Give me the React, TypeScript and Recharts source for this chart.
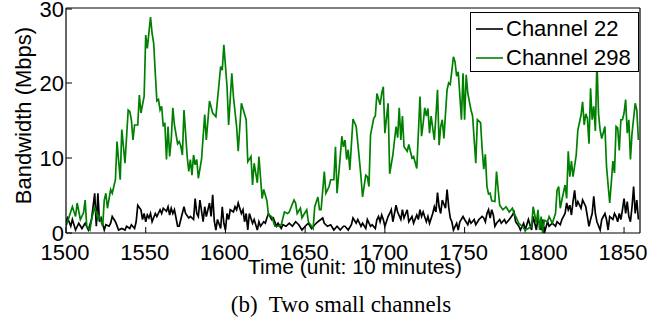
import { LineChart, Line, XAxis, YAxis, Legend, Label } from 'recharts'

// [time, Mbps]
const ch22: [number, number][] = [
  [1500, 1.5], [1501, 2.0], [1503, 0.9], [1504, 1.8], [1506, 0.4], [1508, 1.3], [1510, 0.6], [1512, 1.3],
  [1514, 0.4], [1516, 1.8], [1518, 5.3], [1519, 0.9], [1520, 5.3], [1521, 1.5], [1522, 2.0], [1524, 0.4],
  [1525, 1.1], [1527, 0.9], [1528, 1.3], [1529, 2.2], [1531, 1.5], [1533, 0.4], [1535, 0.6], [1537, 0.4],
  [1538, 0.9], [1540, 0.6], [1541, 1.1], [1543, 0.6], [1544, 1.5], [1545, 3.7], [1547, 3.1], [1548, 1.8],
  [1549, 2.6], [1550, 1.5], [1551, 2.4], [1552, 2.0], [1553, 2.6], [1554, 1.5], [1556, 2.6], [1557, 2.2],
  [1559, 3.1], [1560, 2.6], [1561, 3.3], [1563, 2.9], [1564, 3.5], [1565, 2.4], [1566, 3.3], [1567, 2.6],
  [1568, 3.1], [1570, 0.9], [1571, 0.9], [1572, 1.8], [1574, 3.5], [1575, 2.6], [1577, 2.0], [1578, 2.2],
  [1580, 1.8], [1581, 4.6], [1582, 2.6], [1583, 2.2], [1584, 4.4], [1586, 1.5], [1587, 3.5], [1588, 2.2],
  [1589, 3.1], [1590, 4.0], [1591, 2.2], [1592, 5.1], [1593, 1.6], [1594, 0.4], [1595, 1.8], [1597, 0.6],
  [1598, 3.5], [1599, 1.3], [1600, 0.4], [1601, 2.6], [1602, 1.8], [1603, 3.1], [1605, 2.8], [1606, 3.5],
  [1607, 3.1], [1608, 4.0], [1610, 2.6], [1611, 3.1], [1612, 1.5], [1613, 2.6], [1614, 0.4], [1615, 2.6],
  [1617, 1.3], [1618, 1.8], [1620, 0.4], [1621, 1.5], [1622, 0.9], [1624, 1.5], [1625, 1.3], [1626, 2.0],
  [1627, 2.6], [1629, 1.8], [1630, 2.0], [1632, 0.9], [1633, 1.3], [1635, 0.6], [1636, 1.1], [1638, 0.9],
  [1640, 1.3], [1642, 0.9], [1644, 1.5], [1646, 1.1], [1648, 0.4], [1650, 0.9], [1652, 1.3], [1654, 0.6],
  [1656, 1.1], [1658, 1.5], [1661, 2.0], [1662, 1.3], [1664, 0.9], [1666, 1.1], [1668, 0.4], [1670, 0.9],
  [1672, 0.4], [1674, 0.9], [1675, 0.9], [1677, 0.4], [1679, 1.1], [1680, 2.0], [1682, 1.3], [1683, 1.8],
  [1685, 0.9], [1686, 1.3], [1688, 0.6], [1689, 1.8], [1691, 0.9], [1692, 1.1], [1694, 0.6], [1695, 1.8],
  [1696, 2.2], [1697, 1.5], [1698, 2.4], [1699, 1.8], [1700, 0.9], [1702, 2.2], [1703, 2.6], [1704, 3.1],
  [1705, 1.5], [1706, 2.6], [1707, 3.7], [1708, 2.8], [1710, 1.8], [1711, 3.1], [1712, 2.0], [1714, 3.1],
  [1715, 1.5], [1717, 2.2], [1718, 1.3], [1720, 2.4], [1721, 1.8], [1722, 3.1], [1723, 2.2], [1724, 2.8],
  [1726, 1.5], [1727, 2.2], [1728, 1.3], [1730, 2.6], [1731, 3.5], [1732, 2.8], [1733, 5.4], [1734, 3.5],
  [1735, 2.6], [1736, 4.4], [1738, 3.3], [1739, 5.8], [1740, 3.5], [1741, 2.0], [1742, 1.5], [1743, 0.4],
  [1745, 1.3], [1746, 0.4], [1747, 1.5], [1749, 2.2], [1750, 1.8], [1752, 1.1], [1753, 1.8], [1754, 1.3],
  [1756, 1.8], [1757, 1.1], [1759, 1.8], [1761, 2.2], [1762, 2.0], [1763, 1.5], [1764, 2.6], [1765, 3.1],
  [1766, 2.0], [1767, 3.1], [1768, 2.4], [1769, 0.9], [1770, 1.3], [1772, 1.8], [1773, 1.3], [1775, 1.8],
  [1776, 1.3], [1778, 1.8], [1780, 2.4], [1781, 2.8], [1782, 1.5], [1784, 0.9], [1785, 0.4], [1787, 1.3],
  [1788, 0.4], [1790, 1.8], [1791, 1.1], [1792, 0.4], [1793, 2.2], [1795, 0.4], [1796, 2.0], [1798, 0.4],
  [1799, 1.8], [1800, 0.0], [1802, 1.5], [1803, 0.9], [1805, 1.3], [1807, 0.9], [1808, 1.5], [1810, 1.1],
  [1811, 1.8], [1813, 2.6], [1814, 4.0], [1815, 3.1], [1816, 3.7], [1817, 2.4], [1818, 4.2], [1819, 5.7],
  [1820, 3.5], [1821, 4.2], [1823, 3.3], [1824, 4.4], [1826, 3.5], [1827, 2.2], [1828, 0.9], [1829, 1.8],
  [1830, 2.6], [1831, 4.9], [1832, 2.6], [1833, 1.5], [1835, 0.4], [1836, 1.8], [1838, 2.6], [1839, 1.8],
  [1840, 0.4], [1841, 2.2], [1843, 1.8], [1844, 2.6], [1845, 2.2], [1846, 1.5], [1847, 2.6], [1848, 1.8],
  [1849, 3.1], [1850, 4.6], [1851, 2.6], [1852, 4.2], [1853, 2.2], [1854, 1.5], [1855, 3.5], [1856, 6.2],
  [1857, 2.6], [1858, 4.4], [1859, 1.8],
]

const ch298: [number, number][] = [
  [1500, 0.9], [1502, 2.2], [1504, 3.5], [1506, 2.2], [1507, 4.0], [1509, 1.8], [1511, 2.7], [1512, 4.4],
  [1513, 0.9], [1515, 0.4], [1516, 1.8], [1518, 3.5], [1520, 1.8], [1521, 2.2], [1523, 0.9], [1524, 4.4],
  [1525, 5.3], [1526, 3.3], [1528, 5.8], [1529, 5.3], [1530, 6.2], [1531, 7.1], [1532, 12.2], [1534, 7.1],
  [1535, 13.8], [1537, 9.3], [1539, 16.4], [1540, 16.2], [1541, 15.1], [1542, 12.4], [1543, 14.4], [1545, 14.4],
  [1546, 18.4], [1547, 16.0], [1549, 18.2], [1550, 26.4], [1551, 24.6], [1553, 28.8], [1554, 26.6], [1555, 25.3],
  [1556, 21.3], [1557, 17.6], [1558, 17.8], [1559, 16.4], [1560, 16.9], [1561, 14.2], [1562, 14.7], [1563, 9.8],
  [1564, 14.2], [1565, 10.2], [1566, 12.4], [1567, 16.7], [1568, 14.4], [1570, 11.9], [1571, 12.2], [1572, 11.6],
  [1573, 10.4], [1574, 16.4], [1576, 10.2], [1577, 8.2], [1578, 9.8], [1579, 7.7], [1580, 10.4], [1581, 9.1],
  [1582, 9.8], [1583, 7.3], [1585, 9.8], [1587, 15.8], [1588, 12.4], [1590, 17.6], [1592, 16.0], [1594, 15.5],
  [1597, 22.2], [1598, 21.7], [1599, 25.1], [1601, 19.5], [1602, 14.4], [1604, 21.3], [1605, 18.2], [1607, 14.2],
  [1608, 10.9], [1610, 17.3], [1613, 15.1], [1614, 9.5], [1616, 10.2], [1617, 6.4], [1618, 9.3], [1620, 6.7],
  [1621, 10.2], [1623, 4.6], [1624, 5.8], [1626, 4.3], [1627, 2.4], [1629, 2.2], [1631, 0.9], [1633, 0.9],
  [1635, 1.1], [1637, 2.8], [1639, 2.6], [1640, 2.8], [1643, 4.4], [1644, 4.0], [1645, 2.6], [1647, 3.3],
  [1648, 2.0], [1649, 2.4], [1651, 3.1], [1652, 1.5], [1654, 0.9], [1655, 0.6], [1656, 3.5], [1658, 4.8],
  [1659, 3.1], [1660, 3.1], [1662, 8.2], [1663, 5.3], [1665, 6.2], [1666, 7.1], [1668, 7.1], [1669, 11.5],
  [1670, 5.3], [1672, 10.2], [1673, 12.9], [1674, 11.5], [1675, 12.4], [1676, 9.8], [1677, 11.1], [1678, 8.4],
  [1680, 15.2], [1682, 14.2], [1684, 9.8], [1685, 7.5], [1686, 4.8], [1688, 7.7], [1689, 7.5], [1690, 6.2],
  [1691, 13.1], [1693, 15.3], [1694, 15.6], [1695, 18.6], [1697, 17.1], [1698, 18.6], [1699, 19.5], [1700, 13.3],
  [1702, 17.3], [1703, 7.9], [1705, 10.4], [1707, 14.2], [1708, 12.7], [1709, 16.7], [1710, 12.4], [1711, 15.6],
  [1712, 11.5], [1714, 10.9], [1715, 11.8], [1717, 10.0], [1718, 10.2], [1720, 8.6], [1721, 13.3], [1722, 18.2],
  [1723, 12.9], [1724, 14.6], [1725, 16.7], [1726, 15.6], [1727, 16.6], [1728, 13.3], [1729, 15.6], [1731, 12.4],
  [1732, 15.6], [1733, 19.1], [1734, 11.7], [1735, 14.2], [1736, 15.1], [1737, 12.6], [1739, 19.1], [1740, 20.0],
  [1741, 19.8], [1743, 23.5], [1744, 22.8], [1745, 20.9], [1746, 21.5], [1747, 18.4], [1748, 15.1], [1749, 21.3],
  [1750, 15.1], [1751, 21.1], [1752, 18.6], [1754, 16.4], [1755, 15.6], [1757, 9.3], [1758, 15.1], [1760, 14.7],
  [1761, 11.2], [1762, 8.5], [1763, 10.5], [1764, 6.2], [1765, 5.2], [1766, 5.3], [1767, 4.3], [1769, 4.2],
  [1770, 8.2], [1772, 3.7], [1774, 3.1], [1776, 3.5], [1778, 2.8], [1780, 3.3], [1781, 2.6], [1782, 2.2],
  [1784, 1.3], [1786, 0.9], [1788, 0.4], [1790, 0.6], [1792, 0.9], [1793, 3.5], [1795, 1.3], [1796, 3.1],
  [1797, 0.4], [1798, 2.2], [1799, 0.0], [1800, 1.7], [1802, 1.5], [1803, 2.2], [1805, 1.3], [1807, 2.6],
  [1808, 5.7], [1809, 6.2], [1810, 3.3], [1811, 4.4], [1813, 6.4], [1814, 4.6], [1815, 10.9], [1816, 7.5],
  [1817, 9.6], [1818, 7.5], [1820, 10.4], [1821, 13.7], [1823, 15.7], [1824, 17.5], [1825, 14.4], [1826, 15.9],
  [1827, 15.3], [1828, 11.9], [1829, 19.3], [1830, 15.1], [1831, 16.9], [1832, 13.6], [1833, 23.0], [1834, 15.9],
  [1835, 13.7], [1836, 12.6], [1838, 14.2], [1839, 8.9], [1840, 6.4], [1841, 4.0], [1842, 6.7], [1843, 9.6],
  [1844, 8.0], [1845, 14.2], [1846, 14.0], [1847, 11.0], [1848, 15.1], [1849, 15.1], [1850, 16.0], [1851, 17.8],
  [1852, 13.3], [1853, 15.1], [1854, 9.8], [1855, 13.3], [1857, 17.3], [1858, 16.4], [1859, 12.4],
]

const xTicks = [1500, 1550, 1600, 1650, 1700, 1750, 1800, 1850]
const yTicks = [0, 10, 20, 30]

const SANS = '"Liberation Sans", Arial, Helvetica, sans-serif'
const SERIF = '"Liberation Serif", "Times New Roman", serif'

const toRows = (pts: [number, number][]) => pts.map(([t, v]) => ({ t, v }))

function BottomTick({ x, y, payload }: any) {
  return (
    <g>
      <line x1={x} y1={y} x2={x} y2={y - 6} stroke="#000" />
      <text x={x - 1} y={y + 27} textAnchor="middle" fontSize={22} fontFamily={SANS} fill="#000">
        {payload.value}
      </text>
    </g>
  )
}

function TopTick({ x, y }: any) {
  return <line x1={x} y1={y} x2={x} y2={y + 6} stroke="#000" />
}

function LeftTick({ x, y, payload }: any) {
  return (
    <g>
      <line x1={x} y1={y} x2={x + 6} y2={y} stroke="#000" />
      <text x={x - 2} y={y} dy="0.36em" textAnchor="end" fontSize={22} fontFamily={SANS} fill="#000">
        {payload.value}
      </text>
    </g>
  )
}

function RightTick({ x, y }: any) {
  return <line x1={x} y1={y} x2={x - 6} y2={y} stroke="#000" />
}

function LegendBox({ payload }: any) {
  return (
    <div
      style={{
        width: 169,
        height: 60,
        boxSizing: 'border-box',
        border: '1.3px solid #000',
        background: '#fff',
        paddingTop: 1,
        fontFamily: SANS,
        fontSize: 22,
        color: '#000',
      }}
    >
      {(payload || []).map((p: any) => (
        <div key={p.value} style={{ display: 'flex', alignItems: 'center', height: 29 }}>
          <svg width={30} height={4} style={{ marginLeft: 5 }}>
            <line x1={0} y1={2} x2={27} y2={2} stroke={p.color} strokeWidth={1.6} />
          </svg>
          <span style={{ lineHeight: '29px', whiteSpace: 'nowrap' }}>{p.value}</span>
        </div>
      ))}
    </div>
  )
}

export default function App() {
  return (
    <div style={{ position: 'absolute', left: 0, top: 0, width: 665, height: 322, background: '#fff' }}>
      <LineChart width={665} height={290} margin={{ top: 7, right: 24, left: 0, bottom: 0 }}>
        <XAxis
          xAxisId="bottom"
          dataKey="t"
          type="number"
          domain={[1500, 1860]}
          ticks={xTicks}
          allowDataOverflow
          height={57}
          tickSize={0}
          tickMargin={0}
          tickLine={false}
          axisLine={{ stroke: '#000', strokeWidth: 1.2 }}
          tick={<BottomTick />}
        >
          <Label
            content={({ viewBox }: any) => (
              <text
                x={viewBox.x + viewBox.width / 2 + 2}
                y={viewBox.y + 41}
                textAnchor="middle"
                fontSize={21}
                fontFamily={SANS}
                fill="#000"
              >
                Time (unit: 10 minutes)
              </text>
            )}
          />
        </XAxis>
        <XAxis
          xAxisId="top"
          orientation="top"
          dataKey="t"
          type="number"
          domain={[1500, 1860]}
          ticks={xTicks}
          height={1}
          tickSize={0}
          tickMargin={0}
          tickLine={false}
          axisLine={{ stroke: '#000', strokeWidth: 1.2 }}
          tick={<TopTick />}
        />
        <YAxis
          yAxisId="left"
          type="number"
          domain={[0, 30]}
          ticks={yTicks}
          width={66}
          tickSize={0}
          tickMargin={0}
          tickLine={false}
          axisLine={{ stroke: '#000', strokeWidth: 1.2 }}
          tick={<LeftTick />}
        >
          <Label
            content={({ viewBox }: any) => {
              const x = viewBox.x + 31
              const y = viewBox.y + viewBox.height / 2 - 5
              return (
                <text
                  x={x}
                  y={y}
                  transform={`rotate(-90, ${x}, ${y})`}
                  textAnchor="middle"
                  fontSize={22}
                  fontFamily={SANS}
                  fill="#000"
                >
                  Bandwidth (Mbps)
                </text>
              )
            }}
          />
        </YAxis>
        <YAxis
          yAxisId="right"
          orientation="right"
          type="number"
          domain={[0, 30]}
          ticks={yTicks}
          width={1}
          tickSize={0}
          tickMargin={0}
          tickLine={false}
          axisLine={{ stroke: '#000', strokeWidth: 1.2 }}
          tick={<RightTick />}
        />
        <Line
          xAxisId="bottom"
          yAxisId="left"
          data={toRows(ch22)}
          dataKey="v"
          name="Channel 22"
          type="linear"
          stroke="#000000"
          strokeWidth={1.7}
          dot={false}
          isAnimationActive={false}
        />
        <Line
          xAxisId="bottom"
          yAxisId="left"
          data={toRows(ch298)}
          dataKey="v"
          name="Channel 298"
          type="linear"
          stroke="#008000"
          strokeWidth={1.7}
          dot={false}
          isAnimationActive={false}
        />
        <Legend
          layout="vertical"
          align="center"
          verticalAlign="middle"
          content={<LegendBox />}
          wrapperStyle={{ top: 12, left: 470, width: 169, height: 60 }}
        />
      </LineChart>
      <div
        style={{
          position: 'absolute',
          top: 293,
          left: 341,
          transform: 'translateX(-50%)',
          fontFamily: SERIF,
          fontSize: 23,
          lineHeight: '23px',
          whiteSpace: 'nowrap',
          color: '#000',
        }}
      >
        (b)&nbsp; Two small channels
      </div>
    </div>
  )
}
